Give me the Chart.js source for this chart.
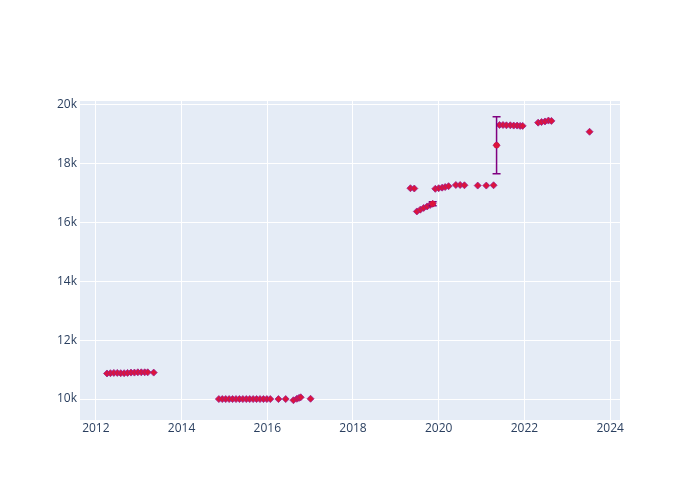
<!DOCTYPE html>
<html>
<head>
<meta charset="utf-8">
<script src="https://cdn.jsdelivr.net/npm/chart.js@4"></script>
<style>
  body { margin: 0; background: #fff; }
  #wrap { width: 700px; height: 500px; }
</style>
</head>
<body>
<div id="wrap"><canvas id="grafica" width="700" height="500"></canvas></div>
<script>
var years = [
  2012.26, 2012.34, 2012.42, 2012.5, 2012.58, 2012.66, 2012.74, 2012.82, 2012.9, 2012.98, 2013.06, 2013.14, 2013.21, 2013.35,
  2014.87, 2014.95, 2015.03, 2015.11, 2015.19, 2015.27, 2015.35, 2015.43, 2015.51, 2015.59, 2015.67, 2015.75, 2015.83, 2015.91, 2015.99, 2016.07,
  2016.26, 2016.43, 2016.61, 2016.69, 2016.74, 2016.78, 2017.01,
  2019.34, 2019.43,
  2019.49, 2019.57, 2019.65, 2019.73, 2019.8, 2019.86,
  2019.92, 2020.0, 2020.08, 2020.15, 2020.23,
  2020.4, 2020.5, 2020.6,
  2020.91, 2021.11, 2021.28,
  2021.35,
  2021.42, 2021.5, 2021.58, 2021.67, 2021.75, 2021.83, 2021.9, 2021.96,
  2022.32, 2022.4, 2022.48, 2022.56, 2022.63,
  2023.52
];
var valores = [
  10870, 10880, 10890, 10890, 10880, 10880, 10890, 10900, 10900, 10910, 10910, 10910, 10910, 10900,
  10000, 10000, 10000, 10000, 10000, 10000, 10000, 10000, 10000, 10000, 10000, 10000, 10000, 10000, 10000, 10000,
  10000, 10000, 9960, 10010, 10040, 10060, 10010,
  17170, 17160,
  16380, 16440, 16500, 16550, 16600, 16640,
  17150, 17170, 17190, 17210, 17240,
  17280, 17280, 17270,
  17260, 17260, 17270,
  18630,
  19320, 19320, 19310, 19310, 19300, 19300, 19290, 19290,
  19400, 19420, 19440, 19470, 19460,
  19090
];
var errores = [
  0, 0, 0, 0, 0, 0, 0, 0, 0, 0, 0, 0, 0, 0,
  0, 0, 0, 0, 0, 0, 0, 0, 0, 0, 0, 0, 0, 0, 0, 0,
  0, 0, 0, 0, 0, 0, 0,
  0, 0,
  0, 0, 0, 0, 0, 70,
  0, 0, 0, 0, 0,
  0, 0, 0,
  0, 0, 0,
  970,
  0, 0, 0, 0, 0, 0, 0, 0,
  0, 0, 0, 0, 0,
  0
];
var xTicks = [2012, 2014, 2016, 2018, 2020, 2022, 2024];
var yTicks = [10000, 12000, 14000, 16000, 18000, 20000];
var yTickLabels = ["10k", "12k", "14k", "16k", "18k", "20k"];

var puntos = years.map(function (x, i) { return { x: x, y: valores[i] }; });

var fondo = {
  id: 'fondo',
  beforeDraw: function (chart) {
    var a = chart.chartArea, c = chart.ctx;
    c.save();
    c.fillStyle = '#e5ecf6';
    c.fillRect(a.left, a.top, a.right - a.left, a.bottom - a.top);
    c.restore();
  }
};

var barras = {
  id: 'barras',
  afterDatasetsDraw: function (chart) {
    var c = chart.ctx, xs = chart.scales.x, ys = chart.scales.y;
    c.save();
    c.strokeStyle = '#800080';
    c.lineWidth = 1.5;
    puntos.forEach(function (p, i) {
      var e = errores[i];
      if (!e) return;
      var px = xs.getPixelForValue(p.x);
      var top = ys.getPixelForValue(p.y + e);
      var bot = ys.getPixelForValue(p.y - e);
      c.beginPath();
      c.moveTo(px, top); c.lineTo(px, bot);
      c.moveTo(px - 4, top); c.lineTo(px + 4, top);
      c.moveTo(px - 4, bot); c.lineTo(px + 4, bot);
      c.stroke();
    });
    c.restore();
    // point with error bar drawn on top
    var meta = chart.getDatasetMeta(0);
    c.save();
    c.fillStyle = '#dc143c';
    puntos.forEach(function (p, i) {
      if (!errores[i]) return;
      var el = meta.data[i];
      c.beginPath();
      c.arc(el.x, el.y, 3, 0, Math.PI * 2);
      c.fill();
    });
    c.restore();
  }
};

var ctx = document.getElementById('grafica').getContext('2d');
var grafica = new Chart(ctx, {
  type: 'scatter',
  data: {
    datasets: [{
      data: puntos,
      backgroundColor: '#dc143c',
      borderColor: '#9b1d8f',
      borderWidth: 0.8,
      pointRadius: 3.5,
      pointStyle: 'rectRot',
      pointHoverRadius: 3.5
    }]
  },
  options: {
    responsive: false,
    animation: false,
    layout: { padding: { left: 0, right: 80, top: 101, bottom: 0 } },
    plugins: { legend: { display: false }, tooltip: { enabled: false } },
    scales: {
      x: {
        type: 'linear',
        min: 2011.63,
        max: 2024.23,
        afterBuildTicks: function (s) { s.ticks = xTicks.map(function (v) { return { value: v }; }); },
        afterFit: function (s) { s.height = 80; },
        grid: { color: '#ffffff', lineWidth: 1, drawTicks: false },
        border: { display: false },
        ticks: {
          color: '#2a3f5f',
          font: { family: 'Open Sans', size: 12 },
          padding: 1,
          maxRotation: 0,
          callback: function (v) { return String(v); }
        }
      },
      y: {
        min: 9288,
        max: 20136,
        afterBuildTicks: function (s) { s.ticks = yTicks.map(function (v) { return { value: v }; }); },
        afterFit: function (s) { s.width = 80; },
        grid: { color: '#ffffff', lineWidth: 1, drawTicks: false },
        border: { display: false },
        ticks: {
          color: '#2a3f5f',
          font: { family: 'Open Sans', size: 12 },
          padding: 3,
          callback: function (v) { return yTickLabels[yTicks.indexOf(v)]; }
        }
      }
    }
  },
  plugins: [fondo, barras]
});
</script>
</body>
</html>
